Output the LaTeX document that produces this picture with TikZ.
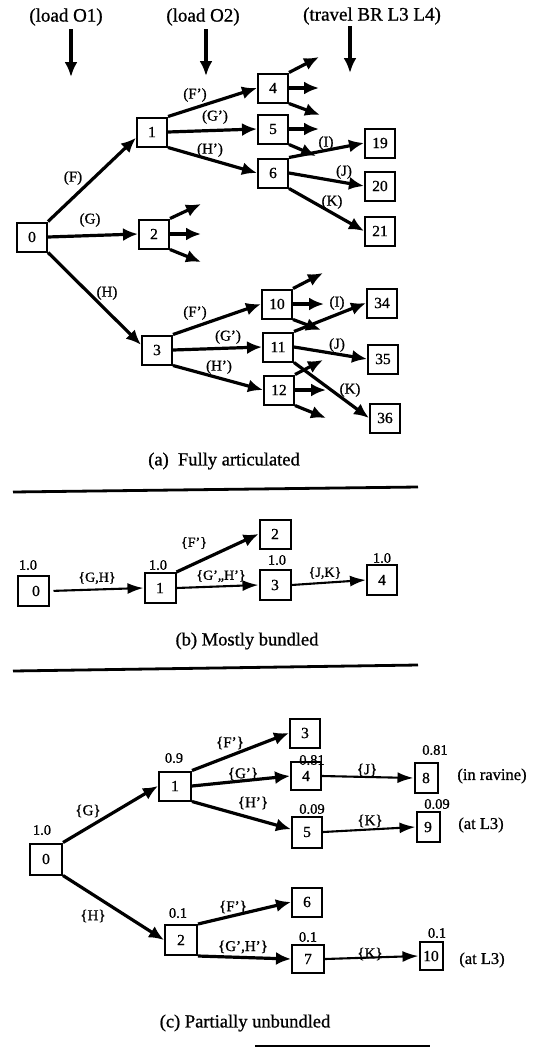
\documentclass[tikz,border=0pt]{standalone}
\usepackage{fontspec}
\setmainfont{Liberation Serif}[FakeBold=0.9]
\usetikzlibrary{arrows.meta}
\begin{document}
\begin{tikzpicture}[x=1pt,y=-1pt,
  box/.style={draw, line width=2pt, minimum width=30pt, minimum height=29pt, inner sep=0pt, font=\fontsize{15.5}{15}\selectfont},
  nbox/.style={box, minimum width=23pt},
  lab/.style={inner sep=0pt, font=\fontsize{15}{15}\selectfont},
  blab/.style={inner sep=0pt, font=\fontsize{14}{14}\selectfont},
  prob/.style={inner sep=0pt, font=\fontsize{14.5}{15}\selectfont},
  note/.style={inner sep=0pt, font=\fontsize{16.5}{17}\selectfont},
  hdr/.style={inner sep=0pt, font=\fontsize{19}{19}\selectfont},
  captext/.style={inner sep=0pt, font=\fontsize{18.5}{19}\selectfont},
  thk/.style={line width=3.2pt, -{Latex[length=15pt,width=13pt]}},
  thn/.style={line width=2.1pt, -{Latex[length=16pt,width=11pt]}},
  sepline/.style={line width=2.8pt}]
\useasboundingbox (0,0) rectangle (538,1050);

% ---------- (a) headers ----------
\node[hdr] (h1) at (66,17) {(load O1)};
\node[hdr] (h2) at (203,17) {(load O2)};
\node[hdr] (h3) at (372,16) {(travel BR L3 L4)};
\coordinate (h1a) at (71,29); \coordinate (h1b) at (71,77);
\coordinate (h2a) at (206,29); \coordinate (h2b) at (206,76);
\coordinate (h3a) at (350,26); \coordinate (h3b) at (350,73);
\draw[thk] (h1a) -- (h1b);
\draw[thk] (h2a) -- (h2b);
\draw[thk] (h3a) -- (h3b);

% ---------- (a) nodes ----------
\node[box] (a0) at (32,237) {0};
\node[box] (a1) at (152,132) {1};
\node[box] (a2) at (154,234) {2};
\node[box] (a3) at (157,350) {3};
\node[box] (a4) at (273,88) {4};
\node[box] (a5) at (273,129) {5};
\node[box] (a6) at (273,173) {6};
\node[box] (a19) at (380,143) {19};
\node[box] (a20) at (380,186) {20};
\node[box] (a21) at (380,231) {21};
\node[box] (a10) at (277,304) {10};
\node[box] (a11) at (278,347) {11};
\node[box] (a12) at (279,390) {12};
\node[box] (a34) at (382,303) {34};
\node[box] (a35) at (383,359) {35};
\node[box] (a36) at (385,418) {36};

% ---------- (a) edges ----------
\draw[thk] (a0.north east) -- (a1.200);
\draw[thk] (a0.east) -- (a2.west);
\draw[thk] (a0.south east) -- (a3.162);
\draw[thk] (a1.north east) -- (a4.west);
\draw[thk] (a1.east) -- (a5.west);
\draw[thk] (a1.south east) -- (a6.west);
\draw[thk] (a6.north east) -- (a19.west);
\draw[thk] (a6.east) -- (a20.west);
\draw[thk] (a6.south east) -- (a21.west);
\draw[thk] (a3.north east) -- (a10.west);
\draw[thk] (a3.east) -- (a11.west);
\draw[thk] (a3.south east) -- (a12.west);
\draw[thk] (a11.north east) -- (a34.west);
\draw[thk] (a11.east) -- (a35.west);
\draw[thk] (a11.south east) -- (a36.west);

% stubs
\coordinate (s2a) at (201,204); \coordinate (s2b) at (201,234); \coordinate (s2c) at (201,262);
\coordinate (s4a) at (319,57); \coordinate (s4b) at (319,88); \coordinate (s4c) at (320,115);
\coordinate (s5a) at (319,129); \coordinate (s5b) at (316,156);
\coordinate (s10a) at (323,273); \coordinate (s10b) at (324,304); \coordinate (s10c) at (321,330);
\coordinate (s12a) at (323,360); \coordinate (s12b) at (326,390); \coordinate (s12c) at (326,418);
\draw[thk] (a2.north east) -- (s2a);
\draw[thk] (a2.east) -- (s2b);
\draw[thk] (a2.south east) -- (s2c);
\draw[thk] (a4.north east) -- (s4a);
\draw[thk] (a4.east) -- (s4b);
\draw[thk] (a4.south east) -- (s4c);
\draw[thk] (a5.east) -- (s5a);
\draw[thk] (a5.south east) -- (s5b);
\draw[thk] (a10.north east) -- (s10a);
\draw[thk] (a10.east) -- (s10b);
\draw[thk] (a10.south east) -- (s10c);
\draw[thk] (a12.north east) -- (s12a);
\draw[thk] (a12.east) -- (s12b);
\draw[thk] (a12.south east) -- (s12c);

% labels (a)
\node[lab] (la1) at (73,178) {(F)};
\node[lab] (la2) at (90,220) {(G)};
\node[lab] (la3) at (107,293) {(H)};
\node[lab] (la4) at (195,95) {(F')};
\node[lab] (la5) at (215,117) {(G')};
\node[lab] (la6) at (210,150) {(H')};
\node[lab] (la7) at (326,143) {(I)};
\node[lab] (la8) at (344,172) {(J)};
\node[lab] (la9) at (332,202) {(K)};
\node[lab] (la10) at (195,313) {(F')};
\node[lab] (la11) at (228,337) {(G')};
\node[lab] (la12) at (219,367) {(H')};
\node[lab] (la13) at (337,303) {(I)};
\node[lab] (la14) at (337,345) {(J)};
\node[lab] (la15) at (350,390) {(K)};

\node[captext] (capa) at (224,461) {(a)\ \ Fully articulated};
\coordinate (l1a) at (13,492); \coordinate (l1b) at (418,487);
\draw[sepline] (l1a) -- (l1b);

% ---------- (b) ----------
\node[box, minimum width=31pt, minimum height=30pt] (b0) at (33,591) {\hspace{6pt}0};
\node[box, minimum width=31pt, minimum height=30pt] (b1) at (160,588) {1};
\node[box, minimum width=31pt, minimum height=29pt] (b2) at (275,534) {2};
\node[box, minimum width=31pt, minimum height=30pt] (b3) at (275,585) {3};
\node[box, minimum width=30pt, minimum height=30pt] (b4) at (382,580) {4};
\node[prob] (pb0) at (28,565) {1.0};
\node[prob] (pb1) at (158,565) {1.0};
\node[prob] (pb3) at (277,560) {1.0};
\node[prob] (pb4) at (382,558) {1.0};
\draw[thn, shorten <=4pt] (b0.east) -- (b1.west);
\draw[thk] (b1.north east) -- (b2.west);
\draw[thn] (b1.east) -- (b3.west);
\draw[thn] (b3.east) -- (b4.west);
\node[blab] (lb1) at (97,578) {\{G,H\}};
\node[blab] (lb2) at (194,543) {\{F'\}};
\node[blab] (lb3) at (221,576) {\{G',,H'\}};
\node[blab] (lb4) at (325,573) {\{J,K\}};

\node[captext] (capb) at (247,641) {(b) Mostly bundled};
\coordinate (l2a) at (13,671); \coordinate (l2b) at (418,665);
\draw[sepline] (l2a) -- (l2b);

% ---------- (c) ----------
\node[box, minimum width=32pt, minimum height=31pt] (c0) at (46,859) {0};
\node[box, minimum width=32pt, minimum height=29pt] (c1) at (175,786) {1};
\node[box, minimum width=32pt, minimum height=30pt] (c2) at (181,940) {2};
\node[box] (c3) at (305,733) {3};
\node[box, minimum height=28pt] (c4) at (306,776) {4};
\node[box, minimum height=31pt] (c5) at (307,832) {5};
\node[box] (c6) at (307,902) {6};
\node[box, minimum width=32pt, minimum height=28pt] (c7) at (308,959) {7};
\node[nbox, minimum height=30pt] (c8) at (426,778) {8};
\node[nbox, minimum height=30pt] (c9) at (428,827) {9};
\node[nbox, minimum height=28pt] (c10) at (431,956) {10};

\node[prob] (pc0) at (42,830) {1.0};
\node[prob] (pc1) at (174,758) {0.9};
\node[prob] (pc2) at (178,913) {0.1};
\node[prob] (pc4) at (312,760) {0.81};
\node[prob] (pc5) at (312,809) {0.09};
\node[prob] (pc7) at (308,937) {0.1};
\node[prob] (pc8) at (435,750) {0.81};
\node[prob] (pc9) at (437,804) {0.09};
\node[prob] (pc10) at (437,933) {0.1};

\node[note] (n8) at (492,776) {(in ravine)};
\node[note] (n9) at (481,825) {(at L3)};
\node[note] (n10) at (482,960) {(at L3)};

\draw[thk] (c0.north east) -- (c1.west);
\draw[thk] (c0.south east) -- (c2.west);
\draw[thk] (c1.north east) -- (c3.west);
\draw[thk] (c1.east) -- (c4.west);
\draw[thk] (c1.south east) -- (c5.170);
\draw[thk] (c2.north east) -- (c6.west);
\draw[thk] (c2.south east) -- (c7.west);
\draw[thn] (c4.east) -- (c8.west);
\draw[thn] (c5.east) -- (c9.west);
\draw[thn] (c7.east) -- (c10.west);

\node[lab] (lc1) at (88,811) {\{G\}};
\node[lab] (lc2) at (93,916) {\{H\}};
\node[lab] (lc3) at (230,743) {\{F'\}};
\node[lab] (lc4) at (243,774) {\{G'\}};
\node[lab] (lc5) at (253,803) {\{H'\}};
\node[lab] (lc6) at (233,907) {\{F'\}};
\node[lab] (lc7) at (243,947) {\{G',H'\}};
\node[lab] (lc8) at (367,770) {\{J\}};
\node[lab] (lc9) at (370,821) {\{K\}};
\node[lab] (lc10) at (370,954) {\{K\}};

\node[captext] (capc) at (245,1023) {(c) Partially unbundled};
\coordinate (l3a) at (255,1046); \coordinate (l3b) at (430,1046);
\draw[sepline] (l3a) -- (l3b);
\end{tikzpicture}
\end{document}
